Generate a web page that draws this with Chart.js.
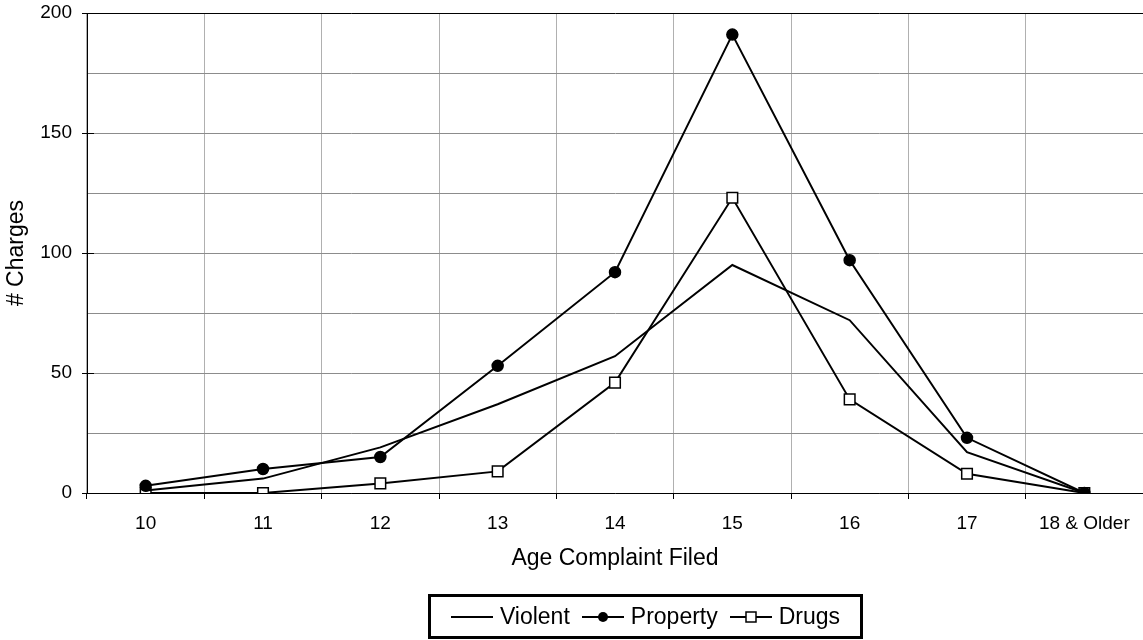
<!DOCTYPE html>
<html lang="en">
<head>
  <meta charset="UTF-8">
  <title># Charges by Age Complaint Filed</title>
  <script src="https://cdn.jsdelivr.net/npm/chart.js"></script>
  <style>
    body {
      margin: 0;
      background-color: #fff;
      font-family: "Liberation Sans", Arial, sans-serif;
    }
    .wrap {
      position: relative;
      width: 1143px;
      height: 640px;
      overflow: hidden;
    }
    .legend {
      position: absolute;
      left: 428px;
      top: 594px;
      width: 435px;
      height: 45px;
      box-sizing: border-box;
      border: 3px solid #000;
      display: flex;
      align-items: center;
      justify-content: center;
      font-size: 23px;
      color: #000;
    }
    .legend .item {
      display: flex;
      align-items: center;
      margin: 0 6px;
    }
    .legend canvas {
      margin-right: 7px;
    }
  </style>
</head>
<body>
  <div class="wrap">
    <canvas id="chart" width="1143" height="640"></canvas>
    <div class="legend" id="legend"></div>
  </div>

  <script>
    const ages = ['10', '11', '12', '13', '14', '15', '16', '17', '18 & Older'];
    const seriesNames = ['Violent', 'Property', 'Drugs'];
    const violent = [1, 6, 19, 37, 57, 95, 72, 17, 0];
    const property = [3, 10, 15, 53, 92, 191, 97, 23, 0];
    const drugs = [0, 0, 4, 9, 46, 123, 39, 8, 0];
    const yTicks = [0, 50, 100, 150, 200];

    const markers = [
      { style: 'circle', radius: 0, fill: '#000' },
      { style: 'circle', radius: 5.5, fill: '#000' },
      { style: 'rect', radius: 7.5, fill: '#fff' },
    ];
    const values = [violent, property, drugs];

    // small black ticks that cross into the plot on the y axis
    const innerTicks = {
      id: 'innerTicks',
      afterDraw(chart) {
        const { ctx, chartArea, scales } = chart;
        ctx.save();
        ctx.strokeStyle = '#000';
        ctx.lineWidth = 1;
        yTicks.forEach(v => {
          const y = Math.round(scales.y.getPixelForValue(v)) + 0.5;
          ctx.beginPath();
          ctx.moveTo(chartArea.left, y);
          ctx.lineTo(chartArea.left + 7, y);
          ctx.stroke();
        });
        ctx.restore();
      }
    };

    const font = { family: '"Liberation Sans", Arial, sans-serif' };

    new Chart(document.getElementById('chart'), {
      type: 'line',
      data: {
        labels: ages,
        datasets: seriesNames.map((name, i) => ({
          label: name,
          data: values[i],
          borderColor: '#000',
          borderWidth: 2,
          tension: 0,
          pointStyle: markers[i].style,
          pointRadius: markers[i].radius,
          pointHoverRadius: markers[i].radius,
          pointBackgroundColor: markers[i].fill,
          pointBorderColor: '#000',
          pointBorderWidth: 1.5,
          fill: false,
        })),
      },
      options: {
        responsive: false,
        animation: false,
        layout: {
          autoPadding: false,
          padding: { top: 13, right: 0, bottom: 67, left: 0 },
        },
        plugins: {
          legend: { display: false },
          tooltip: { enabled: false },
        },
        scales: {
          x: {
            offset: true,
            grid: {
              offset: true,
              color: '#b0b0b0',
              tickColor: '#000',
              tickLength: 6,
            },
            border: { color: '#000', width: 1 },
            ticks: {
              color: '#000',
              padding: 13,
              maxRotation: 0,
              autoSkip: false,
              font: { ...font, size: 19 },
            },
            title: {
              display: true,
              text: 'Age Complaint Filed',
              color: '#000',
              padding: { top: 0, bottom: 1 },
              font: { ...font, size: 23 },
            },
            afterFit(scale) {
              scale.height = 80;
              scale.paddingLeft = 0;
              scale.paddingRight = 0;
            },
          },
          y: {
            min: 0,
            max: 200,
            grid: {
              color: ctx => (ctx.tick && ctx.tick.value === 200 ? '#000' : '#8c8c8c'),
              tickColor: ctx => (ctx.tick && ctx.tick.value % 50 === 0 ? '#000' : 'rgba(0,0,0,0)'),
              tickLength: 5,
            },
            border: { color: '#000', width: 1 },
            ticks: {
              stepSize: 25,
              color: '#000',
              padding: 10,
              font: { ...font, size: 19 },
              callback: v => (yTicks.includes(v) ? v : ''),
            },
            title: {
              display: true,
              text: '# Charges',
              color: '#000',
              padding: { top: 3, bottom: 0 },
              font: { ...font, size: 23 },
            },
            afterFit(scale) {
              scale.width = 87;
              scale.paddingTop = 0;
              scale.paddingBottom = 0;
            },
          },
        },
      },
      plugins: [innerTicks],
    });

    // legend: line sample with marker, then the series name
    const legend = document.getElementById('legend');
    seriesNames.forEach((name, i) => {
      const item = document.createElement('div');
      item.className = 'item';
      const c = document.createElement('canvas');
      c.width = 42;
      c.height = 18;
      const g = c.getContext('2d');
      g.strokeStyle = '#000';
      g.lineWidth = 2;
      g.beginPath();
      g.moveTo(0, 9);
      g.lineTo(42, 9);
      g.stroke();
      const m = markers[i];
      if (m.style === 'circle' && m.radius > 0) {
        g.fillStyle = m.fill;
        g.beginPath();
        g.arc(21, 9, 5, 0, Math.PI * 2);
        g.fill();
      } else if (m.style === 'rect') {
        g.fillStyle = m.fill;
        g.lineWidth = 1.5;
        g.fillRect(16, 4, 10, 10);
        g.strokeRect(16, 4, 10, 10);
      }
      const label = document.createElement('span');
      label.textContent = name;
      item.appendChild(c);
      item.appendChild(label);
      legend.appendChild(item);
    });
  </script>
</body>
</html>
